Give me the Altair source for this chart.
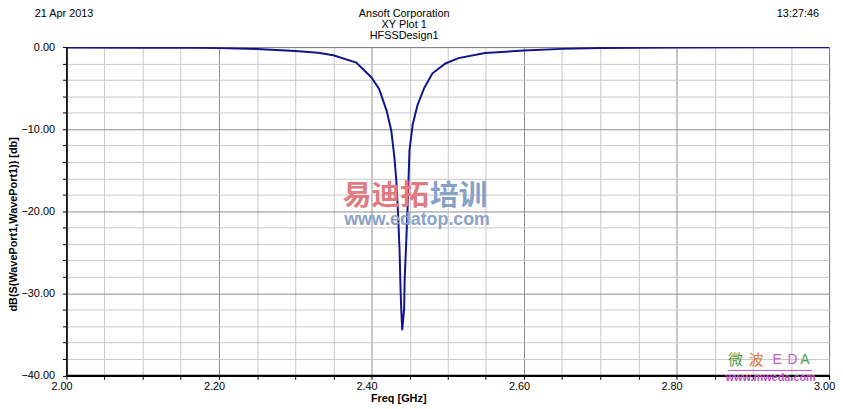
import altair as alt
import pandas as pd

# ---- data ----
freq_ghz = [2.00, 2.10, 2.17, 2.20, 2.25, 2.30, 2.33, 2.35, 2.38, 2.40, 2.41, 2.42,
            2.426, 2.430, 2.4325, 2.4346, 2.4368, 2.4381, 2.439, 2.4403,
            2.4428, 2.4435, 2.4455, 2.4476, 2.4498, 2.4541, 2.4606, 2.4692,
            2.480, 2.497, 2.514, 2.549, 2.60, 2.65, 2.70, 2.80, 3.00]
s11_db = [-0.04, -0.07, -0.10, -0.13, -0.25, -0.48, -0.70, -1.00, -1.90, -3.70, -5.10, -7.80,
          -10.2, -13.4, -16.2, -19.8, -24.7, -29.5, -31.9, -34.5,
          -31.9, -28.3, -23.9, -19.0, -12.6, -9.4, -7.0, -4.97,
          -3.2, -2.0, -1.35, -0.72, -0.42, -0.22, -0.12, -0.06, -0.02]

x_ticks = [2.00, 2.05, 2.10, 2.15, 2.20, 2.25, 2.30, 2.35, 2.40, 2.45, 2.50,
           2.55, 2.60, 2.65, 2.70, 2.75, 2.80, 2.85, 2.90, 2.95, 3.00]
y_ticks = [-40, -38, -36, -34, -32, -30, -28, -26, -24, -22, -20,
           -18, -16, -14, -12, -10, -8, -6, -4, -2, 0]

header_left = "21 Apr 2013"
header_right = "13:27:46"
header_center = ["Ansoft Corporation", "XY Plot 1", "HFSSDesign1"]
x_title = "Freq [GHz]"
y_title = "dB(S(WavePort1,WavePort1)) [db]"

df = pd.DataFrame({"freq": freq_ghz, "db": s11_db})

FONT = "Liberation Sans"
one = pd.DataFrame({"k": [0]})

x_axis = alt.Axis(
    values=x_ticks,
    labelExpr="round(datum.value*20) % 4 == 0 ? format(datum.value, '.2f') : ''",
    labelFont=FONT, labelFontSize=11, labelColor="black", labelOffset=-5,
    labelPadding=1, labelFlush=False, labelOverlap=False,
    tickSize=4, tickColor="black",
    domainColor="black", domainWidth=2.5,
    grid=True,
    gridColor={"condition": {"test": "round(datum.value*20) % 4 == 0", "value": "#8c8c8c"},
               "value": "#c8c8c8"},
    gridWidth=1,
    title=x_title, titleFont=FONT, titleFontSize=11, titleFontWeight="bold",
    titleColor="black", titleX=335, titleY=23.5, titleBaseline="middle",
    titleAlign="center",
)

y_axis = alt.Axis(
    values=y_ticks,
    labelExpr="round(datum.value) % 10 == 0 ? format(datum.value, '.2f') : ''",
    labelFont=FONT, labelFontSize=11, labelColor="black",
    labelPadding=8, labelFlush=False, labelOverlap=False,
    tickSize=4, tickColor="black",
    domainColor="black", domainWidth=1.5,
    grid=True,
    gridColor={"condition": {"test": "round(datum.value) % 10 == 0", "value": "#8c8c8c"},
               "value": "#c8c8c8"},
    gridWidth=1,
    title=y_title, titleFont=FONT, titleFontSize=11, titleFontWeight="bold",
    titleColor="black", titleX=-53, titleY=178.5, titleBaseline="middle",
    titleAlign="center", titleAngle=270,
)

line = alt.Chart(df).mark_line(color="#14148a", strokeWidth=2, clip=True).encode(
    x=alt.X("freq:Q", scale=alt.Scale(domain=[2, 3], nice=False, zero=False), axis=x_axis),
    y=alt.Y("db:Q", scale=alt.Scale(domain=[-40, 0], nice=False, zero=False), axis=y_axis),
    order="freq:Q",
)


def label(text, x, y, align="center", size=11, color="black", weight="normal", font=FONT, opacity=1):
    return alt.Chart(one).mark_text(
        align=align, baseline="middle", font=font, fontSize=size, fontWeight=weight,
        color=color, opacity=opacity,
    ).encode(x=alt.value(x), y=alt.value(y), text=alt.value(text))


layers = [line,
          label(header_left, -32, -33.2, align="left"),
          label(header_right, 760, -33.2, align="right"),
          label(header_center[0], 341, -33.0),
          label(header_center[1], 341, -22.0),
          label(header_center[2], 341, -11.0),
          ]

# watermarks visible in the reference picture
CJK = "Noto Sans CJK SC"
layers += [
    label("易迪拓", 279, 150.5, align="left", size=29, color="#e07b80", weight="bold", font=CJK),
    label("培训", 367, 150.5, align="left", size=29, color="#86a2c8", weight="bold", font=CJK),
    label("www.edatop.com", 354, 175, align="center", size=18, color="#8aa3c8", weight="bold"),
    label("微", 668, 316, align="left", size=15, color="#4f9a4f", font=CJK),
    label("波", 689, 316, align="left", size=15, color="#e0783c", font=CJK),
    label("E", 713, 316, align="left", size=14, color="#c060c0"),
    label("D", 728, 316, align="left", size=14, color="#c060c0"),
    label("A", 741, 316, align="left", size=14, color="#4aa04a"),
    label("www.mweda.com", 711, 334.5, align="center", size=11, color="#c050c0", weight="bold"),
]

rule_wm = alt.Chart(one).mark_rule(color="#c050c0", strokeWidth=1).encode(
    x=alt.value(668), x2=alt.value(753), y=alt.value(326.5))
layers.append(rule_wm)

chart = alt.layer(*layers).properties(
    width=770, height=331.5,
    autosize=alt.AutoSizeParams(type="none"),
    padding={"left": 59, "top": 37.5, "right": 6, "bottom": 32},
    background="white",
).configure_view(stroke="black", strokeWidth=1)

chart.save("out.html", embed_options={"renderer": "svg", "actions": False})
